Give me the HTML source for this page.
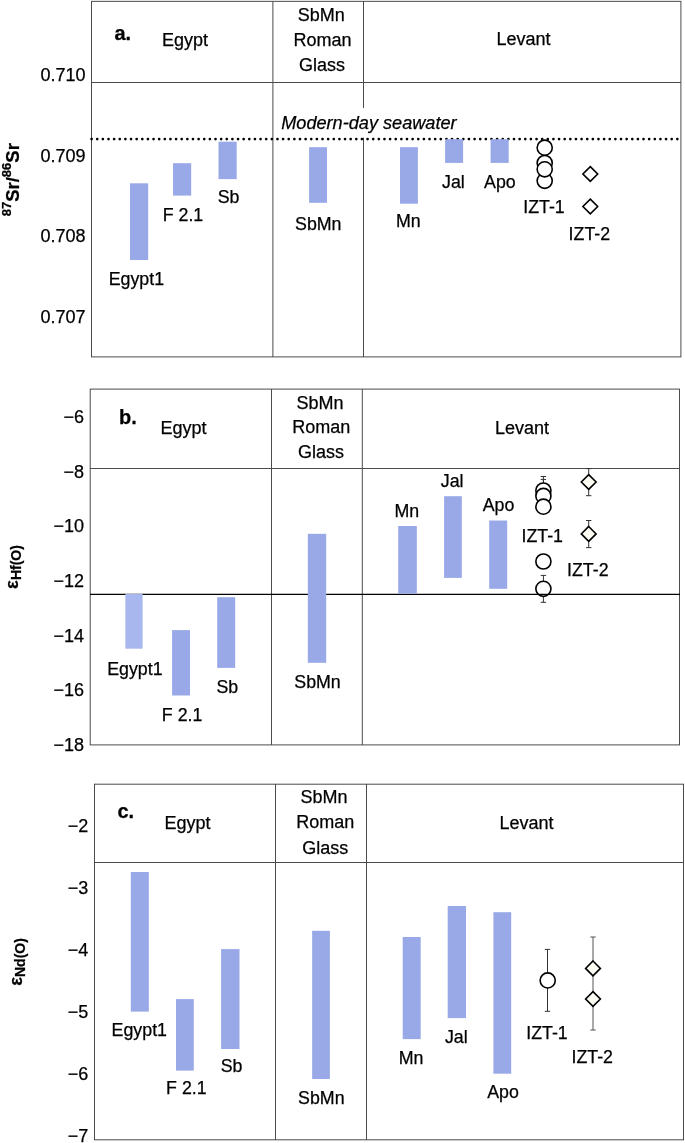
<!DOCTYPE html>
<html><head><meta charset="utf-8"><style>
html,body{margin:0;padding:0;background:#fff;}
svg{display:block;will-change:transform;}
text{font-family:"Liberation Sans",sans-serif;fill:#000;stroke:#000;stroke-width:0.25px;}
</style></head><body>
<svg width="685" height="1143" viewBox="0 0 685 1143">
<rect width="685" height="1143" fill="#fff"/>
<rect x="91.5" y="1.35" width="589.4" height="355.54999999999995" fill="none" stroke="#4b4b4b" stroke-width="1"/>
<line x1="91" y1="82.5" x2="681" y2="82.5" stroke="#4b4b4b" stroke-width="1"/>
<line x1="272.9" y1="1" x2="272.9" y2="357" stroke="#4b4b4b" stroke-width="1"/>
<line x1="363.5" y1="1" x2="363.5" y2="108" stroke="#4b4b4b" stroke-width="1"/>
<line x1="363.5" y1="137.7" x2="363.5" y2="357" stroke="#4b4b4b" stroke-width="1"/>
<g fill="#000"><circle cx="91.60" cy="139.1" r="1.35"/><circle cx="97.23" cy="139.1" r="1.35"/><circle cx="102.86" cy="139.1" r="1.35"/><circle cx="108.50" cy="139.1" r="1.35"/><circle cx="114.13" cy="139.1" r="1.35"/><circle cx="119.76" cy="139.1" r="1.35"/><circle cx="125.39" cy="139.1" r="1.35"/><circle cx="131.02" cy="139.1" r="1.35"/><circle cx="136.66" cy="139.1" r="1.35"/><circle cx="142.29" cy="139.1" r="1.35"/><circle cx="147.92" cy="139.1" r="1.35"/><circle cx="153.55" cy="139.1" r="1.35"/><circle cx="159.18" cy="139.1" r="1.35"/><circle cx="164.82" cy="139.1" r="1.35"/><circle cx="170.45" cy="139.1" r="1.35"/><circle cx="176.08" cy="139.1" r="1.35"/><circle cx="181.71" cy="139.1" r="1.35"/><circle cx="187.34" cy="139.1" r="1.35"/><circle cx="192.98" cy="139.1" r="1.35"/><circle cx="198.61" cy="139.1" r="1.35"/><circle cx="204.24" cy="139.1" r="1.35"/><circle cx="209.87" cy="139.1" r="1.35"/><circle cx="215.50" cy="139.1" r="1.35"/><circle cx="221.14" cy="139.1" r="1.35"/><circle cx="226.77" cy="139.1" r="1.35"/><circle cx="232.40" cy="139.1" r="1.35"/><circle cx="238.03" cy="139.1" r="1.35"/><circle cx="243.66" cy="139.1" r="1.35"/><circle cx="249.30" cy="139.1" r="1.35"/><circle cx="254.93" cy="139.1" r="1.35"/><circle cx="260.56" cy="139.1" r="1.35"/><circle cx="266.19" cy="139.1" r="1.35"/><circle cx="271.82" cy="139.1" r="1.35"/><circle cx="277.46" cy="139.1" r="1.35"/><circle cx="283.09" cy="139.1" r="1.35"/><circle cx="288.72" cy="139.1" r="1.35"/><circle cx="294.35" cy="139.1" r="1.35"/><circle cx="299.98" cy="139.1" r="1.35"/><circle cx="305.62" cy="139.1" r="1.35"/><circle cx="311.25" cy="139.1" r="1.35"/><circle cx="316.88" cy="139.1" r="1.35"/><circle cx="322.51" cy="139.1" r="1.35"/><circle cx="328.14" cy="139.1" r="1.35"/><circle cx="333.78" cy="139.1" r="1.35"/><circle cx="339.41" cy="139.1" r="1.35"/><circle cx="345.04" cy="139.1" r="1.35"/><circle cx="350.67" cy="139.1" r="1.35"/><circle cx="356.30" cy="139.1" r="1.35"/><circle cx="361.94" cy="139.1" r="1.35"/><circle cx="367.57" cy="139.1" r="1.35"/><circle cx="373.20" cy="139.1" r="1.35"/><circle cx="378.83" cy="139.1" r="1.35"/><circle cx="384.46" cy="139.1" r="1.35"/><circle cx="390.10" cy="139.1" r="1.35"/><circle cx="395.73" cy="139.1" r="1.35"/><circle cx="401.36" cy="139.1" r="1.35"/><circle cx="406.99" cy="139.1" r="1.35"/><circle cx="412.62" cy="139.1" r="1.35"/><circle cx="418.26" cy="139.1" r="1.35"/><circle cx="423.89" cy="139.1" r="1.35"/><circle cx="429.52" cy="139.1" r="1.35"/><circle cx="435.15" cy="139.1" r="1.35"/><circle cx="440.78" cy="139.1" r="1.35"/><circle cx="446.42" cy="139.1" r="1.35"/><circle cx="452.05" cy="139.1" r="1.35"/><circle cx="457.68" cy="139.1" r="1.35"/><circle cx="463.31" cy="139.1" r="1.35"/><circle cx="468.94" cy="139.1" r="1.35"/><circle cx="474.58" cy="139.1" r="1.35"/><circle cx="480.21" cy="139.1" r="1.35"/><circle cx="485.84" cy="139.1" r="1.35"/><circle cx="491.47" cy="139.1" r="1.35"/><circle cx="497.10" cy="139.1" r="1.35"/><circle cx="502.74" cy="139.1" r="1.35"/><circle cx="508.37" cy="139.1" r="1.35"/><circle cx="514.00" cy="139.1" r="1.35"/><circle cx="519.63" cy="139.1" r="1.35"/><circle cx="525.26" cy="139.1" r="1.35"/><circle cx="530.90" cy="139.1" r="1.35"/><circle cx="536.53" cy="139.1" r="1.35"/><circle cx="542.16" cy="139.1" r="1.35"/><circle cx="547.79" cy="139.1" r="1.35"/><circle cx="553.42" cy="139.1" r="1.35"/><circle cx="559.06" cy="139.1" r="1.35"/><circle cx="564.69" cy="139.1" r="1.35"/><circle cx="570.32" cy="139.1" r="1.35"/><circle cx="575.95" cy="139.1" r="1.35"/><circle cx="581.58" cy="139.1" r="1.35"/><circle cx="587.22" cy="139.1" r="1.35"/><circle cx="592.85" cy="139.1" r="1.35"/><circle cx="598.48" cy="139.1" r="1.35"/><circle cx="604.11" cy="139.1" r="1.35"/><circle cx="609.74" cy="139.1" r="1.35"/><circle cx="615.38" cy="139.1" r="1.35"/><circle cx="621.01" cy="139.1" r="1.35"/><circle cx="626.64" cy="139.1" r="1.35"/><circle cx="632.27" cy="139.1" r="1.35"/><circle cx="637.90" cy="139.1" r="1.35"/><circle cx="643.54" cy="139.1" r="1.35"/><circle cx="649.17" cy="139.1" r="1.35"/><circle cx="654.80" cy="139.1" r="1.35"/><circle cx="660.43" cy="139.1" r="1.35"/><circle cx="666.06" cy="139.1" r="1.35"/><circle cx="671.70" cy="139.1" r="1.35"/><circle cx="677.33" cy="139.1" r="1.35"/></g>
<rect x="130" y="183.3" width="18.2" height="76.7" fill="#99a9e8"/>
<rect x="173" y="163.2" width="18.2" height="32.4" fill="#99a9e8"/>
<rect x="218.5" y="141.7" width="18.2" height="37.4" fill="#99a9e8"/>
<rect x="309.1" y="147.2" width="17.9" height="55.6" fill="#99a9e8"/>
<rect x="400" y="147.2" width="17.9" height="56.5" fill="#99a9e8"/>
<rect x="445.1" y="139.2" width="18.0" height="23.7" fill="#99a9e8"/>
<rect x="490.6" y="139.2" width="18.1" height="23.7" fill="#99a9e8"/>
<circle cx="544.7" cy="147.7" r="7.55" fill="#fff" stroke="#000" stroke-width="1.6"/>
<circle cx="544.7" cy="163.0" r="7.55" fill="#fff" stroke="#000" stroke-width="1.6"/>
<circle cx="544.7" cy="180.8" r="7.55" fill="#fff" stroke="#000" stroke-width="1.6"/>
<circle cx="544.7" cy="169.3" r="7.55" fill="#fff" stroke="#000" stroke-width="1.6"/>
<path d="M590.3 166.6L597.6999999999999 174.0L590.3 181.4L582.9 174.0Z" fill="#fff" stroke="#000" stroke-width="1.6" stroke-linejoin="miter"/>
<path d="M590.3 199.1L597.6999999999999 206.5L590.3 213.9L582.9 206.5Z" fill="#fff" stroke="#000" stroke-width="1.6" stroke-linejoin="miter"/>
<text x="114.5" y="40" font-size="20" font-weight="bold" font-style="normal" text-anchor="start" >a.</text>
<text x="162" y="45.9" font-size="18" font-weight="normal" font-style="normal" text-anchor="start" >Egypt</text>
<text x="321.3" y="20.9" font-size="18" font-weight="normal" font-style="normal" text-anchor="middle" >SbMn</text>
<text x="322.5" y="45.5" font-size="18" font-weight="normal" font-style="normal" text-anchor="middle" >Roman</text>
<text x="322" y="70.7" font-size="18" font-weight="normal" font-style="normal" text-anchor="middle" >Glass</text>
<text x="496.5" y="45.3" font-size="18" font-weight="normal" font-style="normal" text-anchor="start" >Levant</text>
<text x="281.2" y="129.3" font-size="18.15" font-weight="normal" font-style="italic" text-anchor="start" >Modern-day seawater</text>
<text x="85.5" y="80.9" font-size="18" font-weight="normal" font-style="normal" text-anchor="end" >0.710</text>
<text x="85.5" y="162.1" font-size="18" font-weight="normal" font-style="normal" text-anchor="end" >0.709</text>
<text x="85.5" y="242.4" font-size="18" font-weight="normal" font-style="normal" text-anchor="end" >0.708</text>
<text x="85.5" y="322.9" font-size="18" font-weight="normal" font-style="normal" text-anchor="end" >0.707</text>
<text x="136.35" y="285.2" font-size="17.8" font-weight="normal" font-style="normal" text-anchor="middle" >Egypt1</text>
<text x="183.0" y="221.25" font-size="17.8" font-weight="normal" font-style="normal" text-anchor="middle" >F 2.1</text>
<text x="228.6" y="203.15" font-size="17.8" font-weight="normal" font-style="normal" text-anchor="middle" >Sb</text>
<text x="318.3" y="230.3" font-size="17.8" font-weight="normal" font-style="normal" text-anchor="middle" >SbMn</text>
<text x="408.25" y="227.15" font-size="17.8" font-weight="normal" font-style="normal" text-anchor="middle" >Mn</text>
<text x="453.4" y="188.4" font-size="17.8" font-weight="normal" font-style="normal" text-anchor="middle" >Jal</text>
<text x="499.9" y="188.4" font-size="17.8" font-weight="normal" font-style="normal" text-anchor="middle" >Apo</text>
<text x="544.0" y="213.15" font-size="17.8" font-weight="normal" font-style="normal" text-anchor="middle" >IZT-1</text>
<text x="589.35" y="239.7" font-size="17.8" font-weight="normal" font-style="normal" text-anchor="middle" >IZT-2</text>
<text transform="translate(19.2,216.3) rotate(-90)" font-size="18.5" font-weight="bold"><tspan font-size="13" dy="-8.3">87</tspan><tspan dy="8.3">Sr/</tspan><tspan font-size="13" dy="-8.3">86</tspan><tspan dy="8.3">Sr</tspan></text>
<rect x="90.2" y="389.1" width="589.3" height="355.79999999999995" fill="none" stroke="#4b4b4b" stroke-width="1"/>
<line x1="90" y1="468.5" x2="680" y2="468.5" stroke="#4b4b4b" stroke-width="1"/>
<line x1="271.5" y1="389" x2="271.5" y2="745" stroke="#4b4b4b" stroke-width="1"/>
<line x1="362.3" y1="389" x2="362.3" y2="745" stroke="#4b4b4b" stroke-width="1"/>
<line x1="543.4" y1="476.5" x2="543.4" y2="490.5" stroke="#333" stroke-width="1"/>
<line x1="540.6999999999999" y1="476.5" x2="546.1" y2="476.5" stroke="#333" stroke-width="1"/>
<line x1="540.6999999999999" y1="490.5" x2="546.1" y2="490.5" stroke="#333" stroke-width="1"/>
<line x1="543.4" y1="479.4" x2="543.4" y2="495.9" stroke="#333" stroke-width="1"/>
<line x1="540.6999999999999" y1="479.4" x2="546.1" y2="479.4" stroke="#333" stroke-width="1"/>
<line x1="540.6999999999999" y1="495.9" x2="546.1" y2="495.9" stroke="#333" stroke-width="1"/>
<circle cx="543.4" cy="490.5" r="7.55" fill="#fff" stroke="#000" stroke-width="1.6"/>
<circle cx="543.4" cy="495.9" r="7.55" fill="#fff" stroke="#000" stroke-width="1.6"/>
<circle cx="543.4" cy="506.7" r="7.55" fill="#fff" stroke="#000" stroke-width="1.6"/>
<circle cx="543.4" cy="561.5" r="7.55" fill="#fff" stroke="#000" stroke-width="1.6"/>
<line x1="543.4" y1="575.4" x2="543.4" y2="602.3" stroke="#333" stroke-width="1"/>
<line x1="540.6999999999999" y1="575.4" x2="546.1" y2="575.4" stroke="#333" stroke-width="1"/>
<line x1="540.6999999999999" y1="602.3" x2="546.1" y2="602.3" stroke="#333" stroke-width="1"/>
<circle cx="543.4" cy="588.8" r="7.55" fill="#fff" stroke="#000" stroke-width="1.6"/>
<line x1="588.7" y1="468.6" x2="588.7" y2="495.7" stroke="#333" stroke-width="1"/>
<line x1="586.0" y1="468.6" x2="591.4000000000001" y2="468.6" stroke="#333" stroke-width="1"/>
<line x1="586.0" y1="495.7" x2="591.4000000000001" y2="495.7" stroke="#333" stroke-width="1"/>
<path d="M588.7 474.6L596.1 482.0L588.7 489.4L581.3000000000001 482.0Z" fill="#fdfdf4" stroke="#000" stroke-width="1.6" stroke-linejoin="miter"/>
<line x1="588.7" y1="520.5" x2="588.7" y2="547.6" stroke="#333" stroke-width="1"/>
<line x1="586.0" y1="520.5" x2="591.4000000000001" y2="520.5" stroke="#333" stroke-width="1"/>
<line x1="586.0" y1="547.6" x2="591.4000000000001" y2="547.6" stroke="#333" stroke-width="1"/>
<path d="M588.7 526.5L596.1 533.9L588.7 541.3L581.3000000000001 533.9Z" fill="#fdfdf4" stroke="#000" stroke-width="1.6" stroke-linejoin="miter"/>
<line x1="90" y1="594.4" x2="680" y2="594.4" stroke="#000" stroke-width="1.3"/>
<rect x="172.1" y="630.1" width="17.9" height="65.4" fill="#99a9e8"/>
<rect x="217.2" y="597.2" width="18.0" height="70.7" fill="#99a9e8"/>
<rect x="307.8" y="533.8" width="18.4" height="129.0" fill="#99a9e8"/>
<rect x="398.2" y="526" width="18.6" height="67.7" fill="#99a9e8"/>
<rect x="444.1" y="496.2" width="17.7" height="81.7" fill="#99a9e8"/>
<rect x="489.2" y="520.5" width="18.0" height="68.3" fill="#99a9e8"/>
<rect x="125.35" y="594" width="17.25" height="54.7" fill="#a8b8ee"/>
<text x="119" y="423.9" font-size="20" font-weight="bold" font-style="normal" text-anchor="start" >b.</text>
<text x="160.5" y="434.2" font-size="18" font-weight="normal" font-style="normal" text-anchor="start" >Egypt</text>
<text x="320" y="408.6" font-size="18" font-weight="normal" font-style="normal" text-anchor="middle" >SbMn</text>
<text x="321.2" y="433.0" font-size="18" font-weight="normal" font-style="normal" text-anchor="middle" >Roman</text>
<text x="321.0" y="458.2" font-size="18" font-weight="normal" font-style="normal" text-anchor="middle" >Glass</text>
<text x="495" y="433.9" font-size="18" font-weight="normal" font-style="normal" text-anchor="start" >Levant</text>
<text x="84" y="422.9" font-size="18" font-weight="normal" font-style="normal" text-anchor="end" >−6</text>
<text x="84" y="477.6" font-size="18" font-weight="normal" font-style="normal" text-anchor="end" >−8</text>
<text x="84" y="532.3" font-size="18" font-weight="normal" font-style="normal" text-anchor="end" >−10</text>
<text x="84" y="587.0" font-size="18" font-weight="normal" font-style="normal" text-anchor="end" >−12</text>
<text x="84" y="641.7" font-size="18" font-weight="normal" font-style="normal" text-anchor="end" >−14</text>
<text x="84" y="696.4" font-size="18" font-weight="normal" font-style="normal" text-anchor="end" >−16</text>
<text x="84" y="751.1" font-size="18" font-weight="normal" font-style="normal" text-anchor="end" >−18</text>
<text x="134.85" y="674.8" font-size="17.8" font-weight="normal" font-style="normal" text-anchor="middle" >Egypt1</text>
<text x="182.1" y="721.0" font-size="17.8" font-weight="normal" font-style="normal" text-anchor="middle" >F 2.1</text>
<text x="227.35" y="692.6" font-size="17.8" font-weight="normal" font-style="normal" text-anchor="middle" >Sb</text>
<text x="317.5" y="688.4" font-size="17.8" font-weight="normal" font-style="normal" text-anchor="middle" >SbMn</text>
<text x="406.75" y="517.4" font-size="17.8" font-weight="normal" font-style="normal" text-anchor="middle" >Mn</text>
<text x="452.15" y="487.3" font-size="17.8" font-weight="normal" font-style="normal" text-anchor="middle" >Jal</text>
<text x="498.55" y="511.3" font-size="17.8" font-weight="normal" font-style="normal" text-anchor="middle" >Apo</text>
<text x="542.25" y="542.3" font-size="17.8" font-weight="normal" font-style="normal" text-anchor="middle" >IZT-1</text>
<text x="587.8" y="575.8" font-size="17.8" font-weight="normal" font-style="normal" text-anchor="middle" >IZT-2</text>
<text transform="translate(18,588.9) rotate(-90)" font-size="18.5" font-weight="bold">ε<tspan font-size="14" dy="2.8">Hf(O)</tspan></text>
<rect x="94.5" y="784.2" width="589.0" height="355.5999999999999" fill="none" stroke="#4b4b4b" stroke-width="1"/>
<line x1="94" y1="862.5" x2="683" y2="862.5" stroke="#4b4b4b" stroke-width="1"/>
<line x1="275.5" y1="784" x2="275.5" y2="1140" stroke="#4b4b4b" stroke-width="1"/>
<line x1="366.5" y1="784" x2="366.5" y2="1140" stroke="#4b4b4b" stroke-width="1"/>
<rect x="130.8" y="872.0" width="18.0" height="139.6" fill="#99a9e8"/>
<rect x="176" y="999.1" width="17.8" height="71.5" fill="#99a9e8"/>
<rect x="221.1" y="949.1" width="18.4" height="99.9" fill="#99a9e8"/>
<rect x="312.15" y="930.8" width="17.75" height="148.2" fill="#99a9e8"/>
<rect x="402.7" y="937" width="18.0" height="102.1" fill="#99a9e8"/>
<rect x="447.7" y="906" width="18.3" height="112.1" fill="#99a9e8"/>
<rect x="493.4" y="912.2" width="17.8" height="161.5" fill="#99a9e8"/>
<line x1="547.5" y1="949.4" x2="547.5" y2="1011.3" stroke="#333" stroke-width="1"/>
<line x1="544.8" y1="949.4" x2="550.2" y2="949.4" stroke="#333" stroke-width="1"/>
<line x1="544.8" y1="1011.3" x2="550.2" y2="1011.3" stroke="#333" stroke-width="1"/>
<circle cx="547.7" cy="980.4" r="7.55" fill="#fff" stroke="#000" stroke-width="1.6"/>
<line x1="593" y1="937" x2="593" y2="1030.0" stroke="#555" stroke-width="1"/>
<line x1="590.3" y1="937" x2="595.7" y2="937" stroke="#555" stroke-width="1"/>
<line x1="590.3" y1="1030.0" x2="595.7" y2="1030.0" stroke="#555" stroke-width="1"/>
<path d="M593 961.0L600.4 968.4L593 975.8L585.6 968.4Z" fill="#fdfdf4" stroke="#000" stroke-width="1.6" stroke-linejoin="miter"/>
<path d="M593 991.6L600.4 999L593 1006.4L585.6 999Z" fill="#fdfdf4" stroke="#000" stroke-width="1.6" stroke-linejoin="miter"/>
<text x="117.5" y="817.6" font-size="20" font-weight="bold" font-style="normal" text-anchor="start" >c.</text>
<text x="164.5" y="828.6" font-size="18" font-weight="normal" font-style="normal" text-anchor="start" >Egypt</text>
<text x="324.0" y="803.3" font-size="18" font-weight="normal" font-style="normal" text-anchor="middle" >SbMn</text>
<text x="325.3" y="828.3" font-size="18" font-weight="normal" font-style="normal" text-anchor="middle" >Roman</text>
<text x="325.2" y="853.5" font-size="18" font-weight="normal" font-style="normal" text-anchor="middle" >Glass</text>
<text x="499.5" y="828.6" font-size="18" font-weight="normal" font-style="normal" text-anchor="start" >Levant</text>
<text x="88.2" y="831.7" font-size="18" font-weight="normal" font-style="normal" text-anchor="end" >−2</text>
<text x="88.2" y="893.7" font-size="18" font-weight="normal" font-style="normal" text-anchor="end" >−3</text>
<text x="88.2" y="955.7" font-size="18" font-weight="normal" font-style="normal" text-anchor="end" >−4</text>
<text x="88.2" y="1017.7" font-size="18" font-weight="normal" font-style="normal" text-anchor="end" >−5</text>
<text x="88.2" y="1079.7" font-size="18" font-weight="normal" font-style="normal" text-anchor="end" >−6</text>
<text x="88.2" y="1141.7" font-size="18" font-weight="normal" font-style="normal" text-anchor="end" >−7</text>
<text x="139.3" y="1036.1" font-size="17.8" font-weight="normal" font-style="normal" text-anchor="middle" >Egypt1</text>
<text x="186.35" y="1093.5" font-size="17.8" font-weight="normal" font-style="normal" text-anchor="middle" >F 2.1</text>
<text x="231.5" y="1072.1" font-size="17.8" font-weight="normal" font-style="normal" text-anchor="middle" >Sb</text>
<text x="321.35" y="1103.8" font-size="17.8" font-weight="normal" font-style="normal" text-anchor="middle" >SbMn</text>
<text x="411.05" y="1063.5" font-size="17.8" font-weight="normal" font-style="normal" text-anchor="middle" >Mn</text>
<text x="456.3" y="1042.8" font-size="17.8" font-weight="normal" font-style="normal" text-anchor="middle" >Jal</text>
<text x="503.0" y="1098" font-size="17.8" font-weight="normal" font-style="normal" text-anchor="middle" >Apo</text>
<text x="547.0" y="1038.5" font-size="17.8" font-weight="normal" font-style="normal" text-anchor="middle" >IZT-1</text>
<text x="592.25" y="1063" font-size="17.8" font-weight="normal" font-style="normal" text-anchor="middle" >IZT-2</text>
<text transform="translate(22,985.8) rotate(-90)" font-size="18.5" font-weight="bold">ε<tspan font-size="14" dy="2.8">Nd(O)</tspan></text>
</svg>
</body></html>
